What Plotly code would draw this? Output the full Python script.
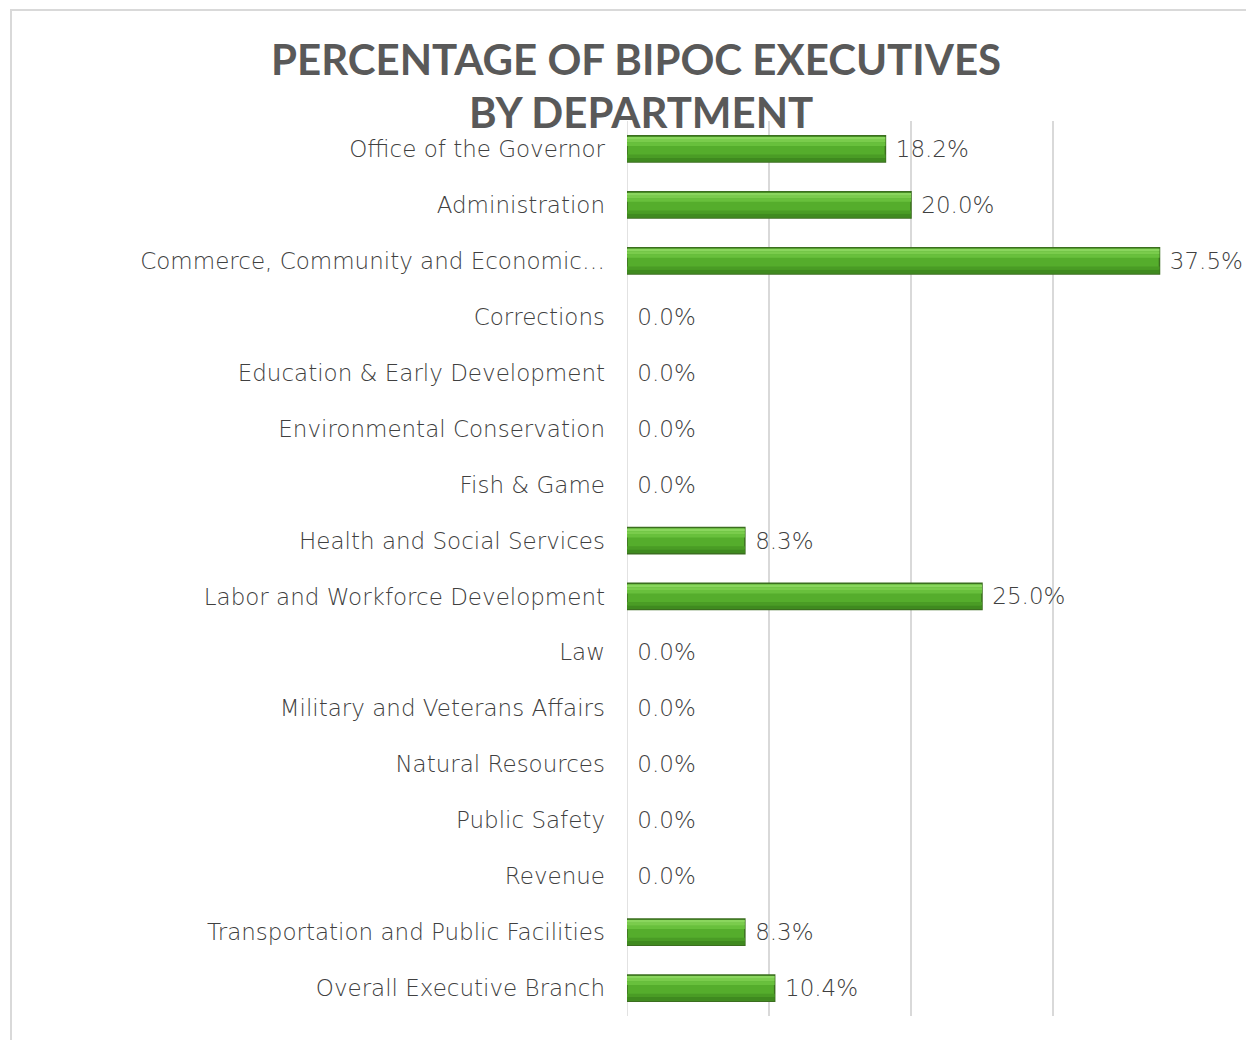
import plotly.graph_objects as go

categories = [
    "Office of the Governor",
    "Administration",
    "Commerce, Community and Economic…",
    "Corrections",
    "Education & Early Development",
    "Environmental Conservation",
    "Fish & Game",
    "Health and Social Services",
    "Labor and Workforce Development",
    "Law",
    "Military and Veterans Affairs",
    "Natural Resources",
    "Public Safety",
    "Revenue",
    "Transportation and Public Facilities",
    "Overall Executive Branch",
]
values = [18.2, 20.0, 37.5, 0.0, 0.0, 0.0, 0.0, 8.3, 25.0, 0.0, 0.0, 0.0, 0.0, 0.0, 8.3, 10.4]
labels = [" " + f"{v:.1f}%" for v in values]

OFF = 8  # default page margin of the html body
W, H = 1254 - OFF, 1040 - OFF
L, R, T, B = 627 - OFF, 1195 - OFF, 121 - OFF, 1016 - OFF

FONT = "DejaVu Sans"
TXT = "#404040"
FS = 23

line_w = [1.5 if v > 0 else 0 for v in values]

fig = go.Figure()
# main bar body
fig.add_trace(go.Bar(
    y=categories, x=values, orientation="h",
    width=0.47, offset=-0.235,
    marker=dict(color="#55ad2c", line=dict(color="#3b6e1f", width=line_w)),
    text=labels, textposition="outside",
    textfont=dict(family=FONT, size=FS, color=TXT, weight=300),
    cliponaxis=False, hoverinfo="skip",
))
# bevel shading bands (offset, width, colour)
bands = [(-0.215, 0.05, "#8ad65e"), (-0.165, 0.05, "#7acc4c"), (-0.115, 0.06, "#68c03c"),
         (0.10, 0.06, "#4a9c25"), (0.16, 0.065, "#3f8a1f")]
for off, wd, col in bands:
    fig.add_trace(go.Bar(
        y=categories, x=values, orientation="h",
        width=wd, offset=off,
        marker=dict(color=col, line=dict(width=0)),
        hoverinfo="skip",
    ))

def px_x(p):
    return (p - L) / (R - L)

def px_y(p):
    return (B - p) / (B - T)

fig.add_shape(type="rect", xref="paper", yref="paper",
              x0=px_x(3), x1=px_x(1262), y0=px_y(2), y1=px_y(1046),
              line=dict(color="#d9d9d9", width=2), fillcolor="rgba(0,0,0,0)", layer="below")
fig.add_shape(type="line", xref="x", yref="paper", x0=0, x1=0, y0=0, y1=1,
              line=dict(color="#d9d9d9", width=1.5), layer="below")

title_font = dict(family="Lato", size=42, color="#595959", weight="bold")
fig.add_annotation(text="PERCENTAGE OF BIPOC EXECUTIVES",
                   xref="paper", yref="paper", x=px_x(636 - OFF), y=px_y(24),
                   xanchor="center", yanchor="top", showarrow=False, font=title_font)
fig.add_annotation(text="BY DEPARTMENT",
                   xref="paper", yref="paper", x=px_x(641 - OFF), y=px_y(77),
                   xanchor="center", yanchor="top", showarrow=False, font=title_font)

fig.update_layout(
    width=W, height=H,
    margin=dict(l=L, r=W - R, t=T, b=H - B, autoexpand=False),
    paper_bgcolor="white", plot_bgcolor="white",
    showlegend=False, barmode="overlay",
)
fig.update_xaxes(range=[0, 40], dtick=10, showgrid=True, gridcolor="#d9d9d9", gridwidth=1.5,
                 showticklabels=False, zeroline=False, showline=False, fixedrange=True)
fig.update_yaxes(autorange="reversed", showgrid=False, showline=False, ticks="",
                 ticklabelstandoff=21,
                 tickfont=dict(family=FONT, size=FS, color=TXT, weight=300), fixedrange=True)

fig.write_html("out.html")
